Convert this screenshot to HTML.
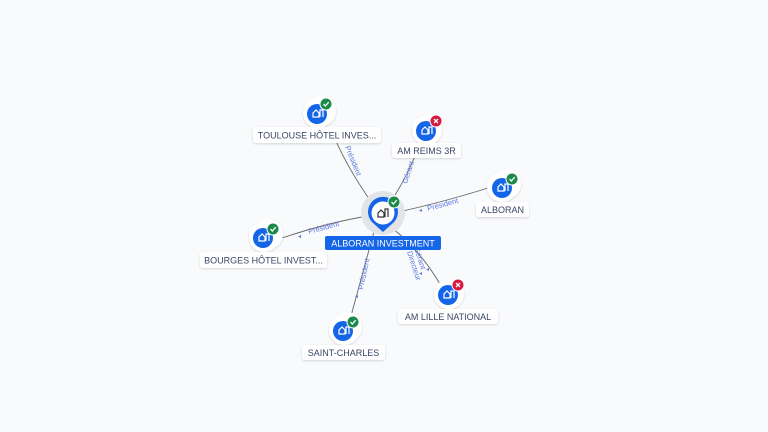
<!DOCTYPE html>
<html><head><meta charset="utf-8"><style>
html,body{margin:0;padding:0;background:#f9fafc;}
svg{display:block;font-family:"Liberation Sans",sans-serif;}
.lbl{font-size:9px;fill:#3a4466;}
.el{font-size:7.5px;fill:#5b7be0;}
</style></head><body>
<svg width="768" height="432" viewBox="0 0 768 432">
<defs>
<filter id="sh" x="-30%" y="-30%" width="160%" height="160%"><feDropShadow dx="0" dy="1" stdDeviation="1" flood-color="#000" flood-opacity="0.15"/></filter>
<g id="bld"><path d="M-4 3 V-1 L-1 -4 L2 -1 V3 Z M3 3 V-4 H6 V3" fill="none" stroke="#fff" stroke-width="1.2"/></g>
<g id="ok"><circle r="6" fill="#1a8a4a" stroke="#fff" stroke-width="1"/><path d="M-2.5 0 L-0.7 2 L2.7 -1.8" fill="none" stroke="#fff" stroke-width="1.3"/></g>
<g id="ko"><circle r="6" fill="#d8183f" stroke="#fff" stroke-width="1"/><path d="M-2 -2 L2 2 M2 -2 L-2 2" stroke="#fff" stroke-width="1.3"/></g>
</defs>
<g stroke="#666" stroke-width="0.9" fill="none">
<path d="M330 127 Q345 165 372 203"/>
<path d="M420 144 Q408 175 392 200"/>
<path d="M398 212 Q440 203 488 188"/>
<path d="M368 216 Q330 222 282 238"/>
<path d="M375 228 Q362 275 351 316"/>
<path d="M392 228 Q420 250 440 284"/>
</g>
<g class="el">
<text transform="translate(345,147) rotate(68)">Président</text>
<text transform="translate(407,184) rotate(-72)">Gérant</text>
<text transform="translate(428,211) rotate(-15)">Président</text>
<text transform="translate(309,234) rotate(-15)">Président</text>
<text transform="translate(363,290) rotate(-78)">Président</text>
<text transform="translate(414,248) rotate(72)">Gérant</text>
<text transform="translate(407,252) rotate(72)">Directeur</text>
<text x="419" y="212" font-size="6">◂</text>
<text x="298" y="238" font-size="6">◂</text>
<text x="355" y="298" font-size="6">◂</text>
<text x="419" y="275" font-size="6">◂</text>
<text x="426" y="271" font-size="6">◂</text>
</g>
<circle cx="383" cy="213" r="22" fill="#e2e4e8"/>
<path d="M383 232 L373 223 A15 15 0 1 1 393 223 Z" fill="#1565e8"/>
<circle cx="383" cy="213" r="11.5" fill="#fff"/>
<path d="M378 217 V213 L381 210 L384 213 V217 Z M385 217 V209 H388 V217" fill="none" stroke="#333" stroke-width="1.2"/>
<use href="#ok" x="394" y="202"/>
<rect x="325" y="236" width="116" height="14" rx="2" fill="#1565e8"/>
<text x="383" y="246.5" text-anchor="middle" font-size="9" fill="#fff">ALBORAN INVESTMENT</text>
<g filter="url(#sh)">
<circle cx="321" cy="111" r="15" fill="#fff"/><circle cx="318" cy="113" r="15" fill="#fff"/>
<circle cx="427" cy="130" r="15" fill="#fff"/>
<circle cx="506" cy="184" r="15" fill="#fff"/><circle cx="502" cy="187" r="15" fill="#fff"/>
<circle cx="268" cy="234" r="15" fill="#fff"/><circle cx="264" cy="237" r="15" fill="#fff"/>
<circle cx="347" cy="327" r="15" fill="#fff"/><circle cx="344" cy="330" r="15" fill="#fff"/>
<circle cx="449" cy="294" r="15" fill="#fff"/>
</g>
<circle cx="317" cy="114" r="10" fill="#1565e8"/><use href="#bld" x="317" y="114"/><use href="#ok" x="326" y="104"/>
<circle cx="426" cy="131" r="10" fill="#1565e8"/><use href="#bld" x="426" y="131"/><use href="#ko" x="436" y="121"/>
<circle cx="502" cy="188" r="10" fill="#1565e8"/><use href="#bld" x="502" y="188"/><use href="#ok" x="512" y="179"/>
<circle cx="263" cy="238" r="10" fill="#1565e8"/><use href="#bld" x="263" y="238"/><use href="#ok" x="273" y="229"/>
<circle cx="343" cy="331" r="10" fill="#1565e8"/><use href="#bld" x="343" y="331"/><use href="#ok" x="353" y="322"/>
<circle cx="448" cy="295" r="10" fill="#1565e8"/><use href="#bld" x="448" y="295"/><use href="#ko" x="458" y="285"/>
<g filter="url(#sh)" fill="#fff">
<rect x="253" y="127" width="128" height="16" rx="3"/>
<rect x="392" y="143" width="69" height="15" rx="3"/>
<rect x="476" y="202" width="53" height="15" rx="3"/>
<rect x="200" y="252" width="127" height="16" rx="3"/>
<rect x="302" y="345" width="83" height="15" rx="3"/>
<rect x="398" y="309" width="100" height="15" rx="3"/>
</g>
<g class="lbl" text-anchor="middle">
<text x="317" y="138.5">TOULOUSE HÔTEL INVES...</text>
<text x="426.5" y="154">AM REIMS 3R</text>
<text x="502.5" y="213">ALBORAN</text>
<text x="263.5" y="263.5">BOURGES HÔTEL INVEST...</text>
<text x="343.5" y="356">SAINT-CHARLES</text>
<text x="448" y="320">AM LILLE NATIONAL</text>
</g>
</svg>
</body></html>
